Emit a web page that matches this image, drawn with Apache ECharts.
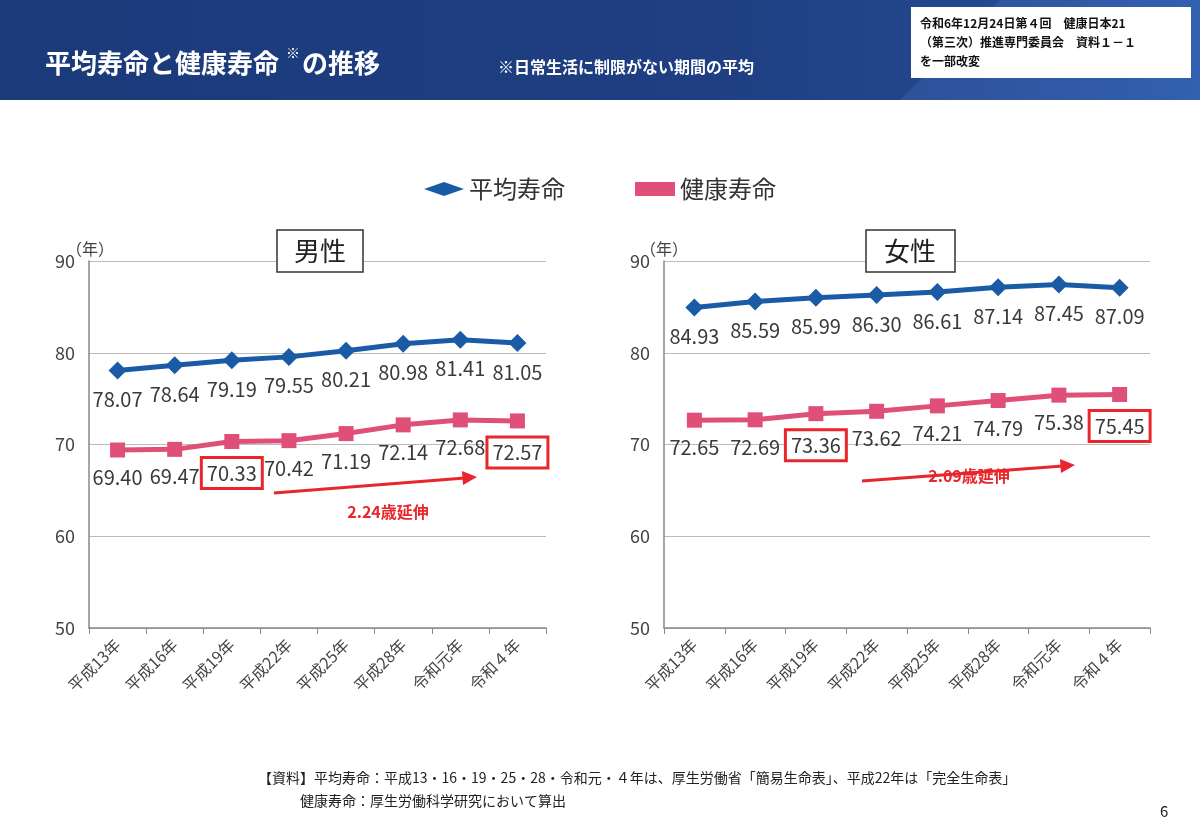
<!DOCTYPE html>
<html><head><meta charset="utf-8">
<script src="https://cdn.jsdelivr.net/npm/echarts@6/dist/echarts.min.js"></script>
<style>html,body{margin:0;padding:0;background:#fff}#c{width:1200px;height:831px}</style>
</head><body><div id="c"></div>
<script>
const categories = ['平成13年','平成16年','平成19年','平成22年','平成25年','平成28年','令和元年','令和４年'];
const maleLife = [78.07,78.64,79.19,79.55,80.21,80.98,81.41,81.05];
const maleHealth = [69.40,69.47,70.33,70.42,71.19,72.14,72.68,72.57];
const femaleLife = [84.93,85.59,85.99,86.30,86.61,87.14,87.45,87.09];
const femaleHealth = [72.65,72.69,73.36,73.62,74.21,74.79,75.38,75.45];
const yTicks = [50,60,70,80,90];
const boxedIdx = [2,7];

const BLUE='#1a5ba6', PINK='#df4f78', RED='#e8262b';
const FONT='"Noto Sans CJK JP","Noto Sans",sans-serif';
const chart = echarts.init(document.getElementById('c'));

function withBoxes(arr){
  return arr.map((v,i)=> boxedIdx.includes(i) ? {value:v,label:{borderColor:RED,borderWidth:3,padding:[4,4,4,4],backgroundColor:'#fff'}} : v);
}
function lineSeries(name,data,gi,color,symbol,size,boxed){
  return {name,type:'line',xAxisIndex:gi,yAxisIndex:gi,data: boxed?withBoxes(data):data,
    symbol,symbolSize:size,lineStyle:{color,width:5},itemStyle:{color},
    label:{show:true,position:'bottom',distance:10,color:'#3a3a3a',fontSize:20,fontFamily:FONT,formatter:p=>p.value.toFixed(2)},
    z:boxed?4:3};
}
const xa = gi=>({type:'category',gridIndex:gi,data:categories,boundaryGap:true,
  axisLine:{lineStyle:{color:'#888',width:1.5}},axisTick:{show:true,length:6,lineStyle:{color:'#888'}},
  axisLabel:{rotate:45,fontSize:16,color:'#444',fontFamily:FONT,margin:14}});
const ya = gi=>({type:'value',gridIndex:gi,min:yTicks[0],max:yTicks[yTicks.length-1],interval:10,
  axisLine:{show:true,lineStyle:{color:'#888',width:1.5}},axisTick:{show:false},
  splitLine:{lineStyle:{color:'#bbb',width:1}},
  axisLabel:{fontSize:18,color:'#444',fontFamily:FONT,margin:14}});

chart.setOption({
  animation:false,
  legend:{top:172,left:'center',itemGap:70,itemWidth:40,itemHeight:14,
    textStyle:{fontSize:24,color:'#333',fontFamily:FONT},
    data:[{name:'平均寿命',icon:'diamond'},{name:'健康寿命',icon:'rect'}]},
  grid:[{left:89,top:261,width:457,height:367},{left:664,top:261,width:486,height:367}],
  xAxis:[xa(0),xa(1)], yAxis:[ya(0),ya(1)],
  series:[
    lineSeries('平均寿命',maleLife,0,BLUE,'diamond',18,false),
    lineSeries('健康寿命',maleHealth,0,PINK,'rect',15,true),
    lineSeries('平均寿命',femaleLife,1,BLUE,'diamond',18,false),
    lineSeries('健康寿命',femaleHealth,1,PINK,'rect',15,true)
  ],
  graphic:[
    {type:'rect',shape:{x:0,y:0,width:1200,height:100},style:{fill:new echarts.graphic.LinearGradient(0,0,1,0,[{offset:0,color:'#1b3a7a'},{offset:0.6,color:'#1f3f82'},{offset:0.8,color:'#23478d'},{offset:1,color:'#2a5aa8'}])},z:0},
    {type:'polygon',shape:{points:[[900,100],[1000,0],[1200,0],[1200,100]]},style:{fill:'rgba(70,110,190,0.35)'},z:0},
    {type:'text',left:45,top:50,style:{text:'平均寿命と健康寿命',fill:'#fff',font:'bold 26px '+FONT},z:2},
    {type:'text',left:286,top:46,style:{text:'※',fill:'#fff',font:'bold 14px '+FONT},z:2},
    {type:'text',left:302,top:50,style:{text:'の推移',fill:'#fff',font:'bold 26px '+FONT},z:2},
    {type:'text',left:498,top:59,style:{text:'※日常生活に制限がない期間の平均',fill:'#fff',font:'bold 16px '+FONT},z:2},
    {type:'rect',shape:{x:911,y:7,width:280,height:71},style:{fill:'#fff'},z:1},
    {type:'text',left:920,top:14,style:{text:'令和6年12月24日第４回　健康日本21\n（第三次）推進専門委員会　資料１－１\nを一部改変',fill:'#111',font:'bold 12px '+FONT,lineHeight:19},z:2},
    {type:'rect',shape:{x:277,y:230,width:86,height:42},style:{fill:'#fff',stroke:'#333',lineWidth:1.5},z:5},
    {type:'text',x:320,y:251,style:{text:'男性',fill:'#222',font:'26px '+FONT,align:'center',verticalAlign:'middle'},z:6},
    {type:'rect',shape:{x:866,y:230,width:89,height:42},style:{fill:'#fff',stroke:'#333',lineWidth:1.5},z:5},
    {type:'text',x:910,y:251,style:{text:'女性',fill:'#222',font:'26px '+FONT,align:'center',verticalAlign:'middle'},z:6},
    {type:'text',left:66,top:241,style:{text:'（年）',fill:'#444',font:'16px '+FONT},z:6},
    {type:'text',left:640,top:241,style:{text:'（年）',fill:'#444',font:'16px '+FONT},z:6},
    {type:'line',shape:{x1:274,y1:493,x2:465,y2:478},style:{stroke:RED,lineWidth:3},z:6},
    {type:'polygon',shape:{points:[[477,477],[462,471],[463,485]]},style:{fill:RED},z:6},
    {type:'text',x:388,y:512,style:{text:'2.24歳延伸',fill:RED,font:'bold 16px '+FONT,align:'center',verticalAlign:'middle'},z:6},
    {type:'line',shape:{x1:862,y1:481,x2:1063,y2:466},style:{stroke:RED,lineWidth:3},z:6},
    {type:'polygon',shape:{points:[[1075,465],[1060,459],[1061,473]]},style:{fill:RED},z:6},
    {type:'text',x:969,y:476,style:{text:'2.09歳延伸',fill:RED,font:'bold 16px '+FONT,align:'center',verticalAlign:'middle'},z:6},
    {type:'text',left:258,top:771,style:{text:'【資料】平均寿命：平成13・16・19・25・28・令和元・４年は、厚生労働省「簡易生命表」、平成22年は「完全生命表」',fill:'#222',font:'14px '+FONT},z:2},
    {type:'text',left:300,top:794,style:{text:'健康寿命：厚生労働科学研究において算出',fill:'#222',font:'14px '+FONT},z:2},
    {type:'text',left:1160,top:804,style:{text:'6',fill:'#222',font:'15px '+FONT},z:2}
  ]
});
</script></body></html>
